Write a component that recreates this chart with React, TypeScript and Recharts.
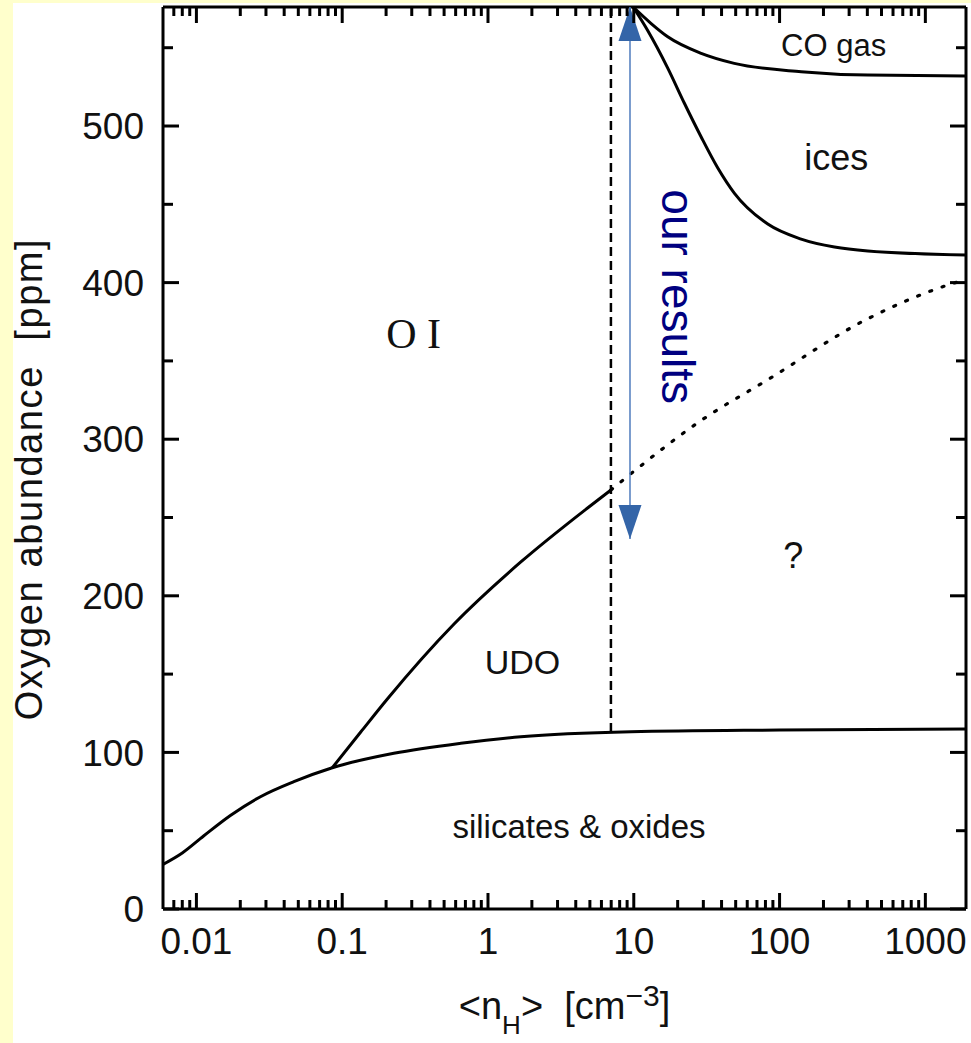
import { ComposedChart, Line, XAxis, YAxis, ReferenceDot, ReferenceLine } from 'recharts';

// axis settings
const X_DOMAIN = [0.0059, 1900];
const Y_DOMAIN = [0, 576];
const X_MAJOR = [0.01, 0.1, 1, 10, 100, 1000];
const X_DECADES = [0.001, 0.01, 0.1, 1, 10, 100];
const X_STEPS = [2, 3, 4, 5, 6, 7, 8, 9];
const X_MINOR = X_DECADES.flatMap((d) => X_STEPS.map((k) => k * d)).filter((v) => v > 0.0065 && v < 1900);
const Y_MAJOR = [0, 100, 200, 300, 400, 500];
const Y_MINOR = [50, 150, 250, 350, 450, 550];

// curves (n_H, ppm)
const silicatesX = [0.0059, 0.008, 0.0112, 0.0171, 0.0275, 0.0466, 0.0855, 0.226, 0.65, 1.68, 9.57, 100, 1900];
const silicatesY = [28.5, 35.8, 46.6, 59.7, 71.7, 81.3, 90.2, 99.4, 105.8, 110, 113.2, 114.3, 115];
const udoX = [0.0855, 0.134, 0.204, 0.585, 1.68, 4.82, 6.97];
const udoY = [90.2, 113, 134.1, 182, 221.6, 256.1, 267.6];
const limitX = [6.97, 6.97];
const limitY = [113, 576];
const dottedX = [6.97, 9.57, 29, 83, 404, 1432, 1900];
const dottedY = [267.6, 278, 312, 338, 377, 398.5, 402];
const coGasX = [9.9, 13.1, 17.1, 29, 48.9, 140.6, 403, 1900];
const coGasY = [576, 565.6, 557, 546.4, 540, 534.7, 532.5, 532];
const icesX = [9.9, 12.4, 17.1, 22.2, 29, 37.7, 48.9, 83, 140.6, 238, 403, 1900];
const icesY = [576, 561.3, 537, 514.7, 493, 473.2, 457.2, 437.4, 427.8, 422.7, 420.2, 417.6];
const arrowX = [9.42, 9.42];
const arrowY = [236.3, 576];

// region labels
const regionLabels = [
  { text: 'UDO', x: 1.725, y: 158, size: 34 },
  { text: 'silicates & oxides', x: 4.21, y: 53, size: 33 },
  { text: '?', x: 124, y: 226, size: 36 },
  { text: 'CO gas', x: 235, y: 552, size: 31 },
  { text: 'ices', x: 245, y: 480, size: 36 },
];

const FONT = '"Liberation Sans", Arial, Helvetica, sans-serif';
const X_TICKS = [...X_MAJOR, ...X_MINOR];
const Y_TICKS = [...Y_MAJOR, ...Y_MINOR];

// layout
const W = 971;
const H = 1043;
const MARGIN = { top: 7, right: 5, bottom: 14, left: 13 };
const Y_AXIS_W = 150;
const X_AXIS_H = 120;
const PLOT_LEFT = MARGIN.left + Y_AXIS_W;
const PLOT_RIGHT = W - MARGIN.right;
const PLOT_TOP = MARGIN.top;
const PLOT_BOTTOM = H - MARGIN.bottom - X_AXIS_H;

const pts = (xs: number[], ys: number[]) => xs.map((x, i) => ({ x, y: ys[i] }));

const ArrowHead = (props: any) => {
  const { cx, cy, index } = props;
  const w = 11.5;
  const h = 34;
  const p =
    index === 0
      ? `${cx},${cy} ${cx - w},${cy - h} ${cx + w},${cy - h}`
      : `${cx},${cy} ${cx - w},${cy + h} ${cx + w},${cy + h}`;
  return <polygon key={`ah-${index}`} points={p} fill="#3465a8" />;
};

// inward tick marks on both opposite sides, labels only on majors
const XTick = (props: any) => {
  const { x, payload } = props;
  const major = X_MAJOR.includes(payload.value);
  const len = major ? 16 : 9;
  return (
    <g>
      <g stroke="#000" strokeWidth={3}>
        <line x1={x} x2={x} y1={PLOT_BOTTOM} y2={PLOT_BOTTOM - len} />
        <line x1={x} x2={x} y1={PLOT_TOP} y2={PLOT_TOP + len} />
      </g>
      {major && (
        <text x={x} y={PLOT_BOTTOM + 19} dy="0.71em" textAnchor="middle" fontSize={37} fill="#111" fontFamily={FONT}>
          {String(payload.value)}
        </text>
      )}
    </g>
  );
};

const YTick = (props: any) => {
  const { y, payload } = props;
  const major = Y_MAJOR.includes(payload.value);
  const len = major ? 16 : 10;
  return (
    <g>
      <g stroke="#000" strokeWidth={3}>
        <line x1={PLOT_LEFT} x2={PLOT_LEFT + len} y1={y} y2={y} />
        <line x1={PLOT_RIGHT} x2={PLOT_RIGHT - len} y1={y} y2={y} />
      </g>
      {major && (
        <text x={PLOT_LEFT - 19} y={y} dy="0.355em" textAnchor="end" fontSize={37} fill="#111" fontFamily={FONT}>
          {String(payload.value)}
        </text>
      )}
    </g>
  );
};

const YTitle = () => {
  const x = 41.5;
  const y = (PLOT_TOP + PLOT_BOTTOM) / 2 + 21;
  return (
    <text x={x} y={y} transform={`rotate(-90, ${x}, ${y})`} textAnchor="middle" fontSize={38}
      fontFamily={FONT} fill="#111" letterSpacing={1.6} style={{ whiteSpace: 'pre' }}>
      Oxygen abundance  [ppm]
    </text>
  );
};

const XTitle = () => {
  const x = (PLOT_LEFT + PLOT_RIGHT) / 2;
  const y = PLOT_BOTTOM + 110;
  return (
    <text x={x} y={y} textAnchor="middle" fontSize={38} fontFamily={FONT} fill="#111" style={{ whiteSpace: 'pre' }}>
      <tspan>{'<n'}</tspan>
      <tspan fontSize={26} dy={15}>H</tspan>
      <tspan dy={-15}>{'>  [cm'}</tspan>
      <tspan fontSize={30} dy={-13}>{'\u22123'}</tspan>
      <tspan dy={13}>]</tspan>
    </text>
  );
};

const frame = { stroke: '#000', strokeWidth: 3 };

export default function App() {
  return (
    <div style={{ position: 'absolute', left: 0, top: 0, width: W, height: H, background: '#ffffcc' }}>
      <div style={{ position: 'absolute', left: 13, top: 3, right: 0, bottom: 0, background: '#fff' }} />
      <div style={{ position: 'absolute', left: 0, top: 0 }}>
        <ComposedChart width={W} height={H} margin={MARGIN}>
          <XAxis xAxisId="main" dataKey="x" type="number" scale="log" domain={X_DOMAIN} allowDataOverflow
            ticks={X_TICKS} interval={0} tickLine={false} axisLine={frame} height={X_AXIS_H}
            tick={XTick} label={<XTitle />} />
          <YAxis yAxisId="main" type="number" domain={Y_DOMAIN} allowDataOverflow ticks={Y_TICKS} interval={0}
            tickLine={false} axisLine={frame} width={Y_AXIS_W} tick={YTick} label={<YTitle />} />

          {/* top and right sides of the frame */}
          <ReferenceLine xAxisId="main" yAxisId="main" y={576} stroke="#000" strokeWidth={3} />
          <ReferenceLine xAxisId="main" yAxisId="main" x={1900} stroke="#000" strokeWidth={3} />

          <Line xAxisId="main" yAxisId="main" data={pts(silicatesX, silicatesY)} dataKey="y" type="monotone"
            stroke="#000" strokeWidth={3} dot={false} isAnimationActive={false} />
          <Line xAxisId="main" yAxisId="main" data={pts(udoX, udoY)} dataKey="y" type="monotone"
            stroke="#000" strokeWidth={3} dot={false} isAnimationActive={false} />
          <Line xAxisId="main" yAxisId="main" data={pts(limitX, limitY)} dataKey="y" type="linear"
            stroke="#000" strokeWidth={2.5} strokeDasharray="9 5" dot={false} isAnimationActive={false} />
          <Line xAxisId="main" yAxisId="main" data={pts(dottedX, dottedY)} dataKey="y" type="monotone"
            stroke="#000" strokeWidth={3.2} strokeDasharray="2 11" strokeLinecap="round" dot={false}
            isAnimationActive={false} />
          <Line xAxisId="main" yAxisId="main" data={pts(coGasX, coGasY)} dataKey="y" type="monotone"
            stroke="#000" strokeWidth={3} dot={false} isAnimationActive={false} />
          <Line xAxisId="main" yAxisId="main" data={pts(icesX, icesY)} dataKey="y" type="monotone"
            stroke="#000" strokeWidth={3} dot={false} isAnimationActive={false} />
          <Line xAxisId="main" yAxisId="main" data={pts(arrowX, arrowY)} dataKey="y" type="linear"
            stroke="#4f7bbd" strokeWidth={1.5} dot={ArrowHead} activeDot={false} isAnimationActive={false} />

          {regionLabels.map((l) => (
            <ReferenceDot key={l.text} xAxisId="main" yAxisId="main" x={l.x} y={l.y} r={1} fill="none" stroke="none"
              label={{ value: l.text, position: 'center', fontSize: l.size, fill: '#111', fontFamily: FONT }} />
          ))}
          <ReferenceDot xAxisId="main" yAxisId="main" x={0.309} y={368} r={1} fill="none" stroke="none"
            label={{ value: 'O I', position: 'center', fontSize: 42, fill: '#111', fontFamily: '"Liberation Serif", "Times New Roman", serif' }} />
          <ReferenceDot xAxisId="main" yAxisId="main" x={20.1} y={391} r={1} fill="none" stroke="none"
            label={{ value: 'our results', position: 'center', angle: 90, fontSize: 46, fill: '#000080', fontFamily: FONT }} />
        </ComposedChart>
      </div>
    </div>
  );
}
